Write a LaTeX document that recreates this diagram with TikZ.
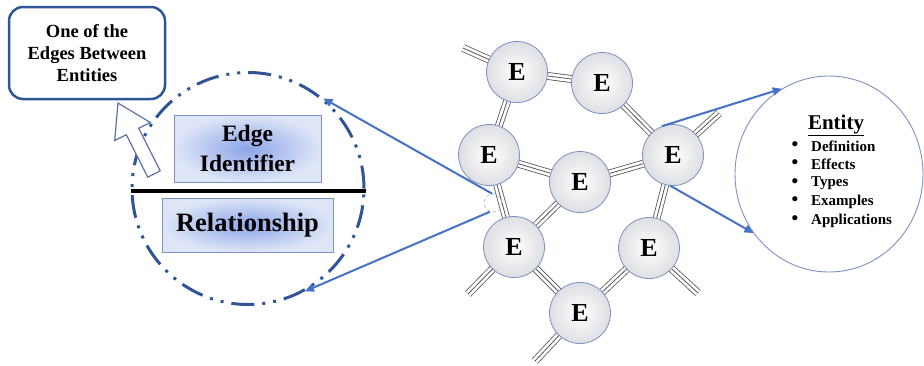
\documentclass[tikz,border=0pt]{standalone}
\usepackage{fontspec}
\setmainfont{Liberation Serif}
\usetikzlibrary{backgrounds,arrows.meta,shapes.geometric}
\definecolor{dblue}{RGB}{47,85,151}
\definecolor{ablue}{RGB}{68,114,196}
\definecolor{egray}{RGB}{85,85,85}
\definecolor{cborder}{RGB}{125,145,195}
\definecolor{boxin}{RGB}{140,165,232}
\definecolor{boxout}{RGB}{222,229,247}
\definecolor{ein}{RGB}{255,255,255}
\definecolor{eout}{RGB}{222,223,227}
\definecolor{harrow}{RGB}{95,115,160}
\tikzset{
  ent/.style={circle, minimum size=61pt, inner sep=0pt, draw=cborder, line width=0.8pt,
    shading=radial, inner color=ein, outer color=eout, font=\bfseries\fontsize{26}{26}\selectfont},
  trip/.style={draw=white, line width=6.2pt,
    preaction={draw=egray, line width=7.8pt},
    postaction={draw=egray, line width=0.8pt}},
  barrow/.style={draw=ablue, line width=2pt, -{Triangle[length=9pt,width=8pt]}},
  gbox/.style={draw=cborder, line width=0.8pt, shading=radial, inner color=boxin, outer color=boxout,
    inner sep=0pt},
  item/.style={anchor=west, inner sep=0pt, font=\bfseries\fontsize{15}{15}\selectfont},
  bul/.style={inner sep=0pt, font=\bfseries\fontsize{19}{19}\selectfont}
}
\begin{document}
\begin{tikzpicture}[x=1pt,y=-1pt]
\useasboundingbox (0,0) rectangle (924,365);

% entity graph
\node[ent] (e1) at (517,72) {E};
\node[ent] (e2) at (602,83) {E};
\node[ent] (e3) at (489,155) {E};
\node[ent] (e4) at (580,182) {E};
\node[ent] (e5) at (673,155) {E};
\node[ent] (e6) at (514,247) {E};
\node[ent] (e7) at (649,248) {E};
\node[ent] (e8) at (580,313) {E};
\coordinate (s1) at (463,48);
\coordinate (s5) at (719,113);
\coordinate (s6) at (468,294);
\coordinate (s7) at (698,293);
\coordinate (s8) at (535,361);
\begin{scope}[on background layer]
\fill[white] (0,0) rectangle (924,365);
\draw[trip] (e1.center) -- (s1);
\draw[trip] (e1.center) -- (e2.center);
\draw[trip] (e1.center) -- (e3.center);
\draw[trip] (e2.center) -- (e5.center);
\draw[trip] (e3.center) -- (e4.center);
\draw[trip] (e3.center) -- (e6.center);
\draw[trip] (e4.center) -- (e5.center);
\draw[trip] (e4.center) -- (e6.center);
\draw[trip] (e5.center) -- (s5);
\draw[trip] (e5.center) -- (e7.center);
\draw[trip] (e6.center) -- (s6);
\draw[trip] (e6.center) -- (e8.center);
\draw[trip] (e7.center) -- (e8.center);
\draw[trip] (e7.center) -- (s7);
\draw[trip] (e8.center) -- (s8);
\end{scope}

% small dashed circle
\node[circle, minimum size=18pt, inner sep=0pt, draw=gray!55, dashed, line width=0.7pt] (sc) at (493,203) {};

% big dash-dot circle
\node[circle, minimum size=232pt, inner sep=0pt, draw=dblue, line width=3pt,
  dash pattern=on 23pt off 8pt on 3pt off 8pt on 3pt off 8pt] (bigc) at (248,188.5) {};
\draw[black, line width=4pt] ([yshift=-2pt]bigc.west) -- ([yshift=-2pt]bigc.east);

\node[gbox, minimum width=147pt, minimum height=67pt, align=center,
  font=\bfseries\fontsize{23.5}{30}\selectfont] (eid) at (247.5,148.5) {Edge\\Identifier};
\node[gbox, minimum width=171pt, minimum height=54pt,
  font=\bfseries\fontsize{26.5}{26.5}\selectfont] (rel) at (247.5,225) {Relationship};

% top-left label box
\node[draw=dblue, line width=2.5pt, rounded corners=14pt, minimum width=156pt, minimum height=92pt,
  align=center, font=\bfseries\fontsize{18.5}{22}\selectfont] (lbl) at (87,53) {One of the\\Edges Between\\Entities};

% hollow arrow
\draw[harrow, fill=white, line width=1.2pt, line join=miter]
  (118,103) -- (150.3,122.5) -- (138.7,128.3) -- (160.2,170.8) -- (147.8,177.2)
  -- (126.3,134.7) -- (114.7,140.5) -- cycle;

% blue arrows to big circle
\draw[barrow] (sc.95) -- (bigc.50);
\draw[barrow] (sc.250) -- (bigc.-61);

% entity ellipse
\node[ellipse, draw=cborder, line width=0.9pt, minimum width=188pt, minimum height=196pt, inner sep=0pt] (entc) at (829,174) {};
\node[inner sep=0pt, font=\bfseries\fontsize{21}{21}\selectfont] (etitle) at (836,125) {\underline{Entity}};
\node[bul] (b1) at (795,146) {\textbullet};
\node[bul] (b2) at (795,164.5) {\textbullet};
\node[bul] (b3) at (795,183) {\textbullet};
\node[bul] (b4) at (795,201.5) {\textbullet};
\node[bul] (b5) at (795,220.5) {\textbullet};
\node[item] (i1) at (811,146) {Definition};
\node[item] (i2) at (811,164.5) {Effects};
\node[item] (i3) at (811,183) {Types};
\node[item] (i4) at (811,201.5) {Examples};
\node[item] (i5) at (811,220.5) {Applications};

\draw[barrow] (e5.111) -- (entc.119);
\draw[barrow] (e5.-95) -- (entc.218);
\end{tikzpicture}
\end{document}
